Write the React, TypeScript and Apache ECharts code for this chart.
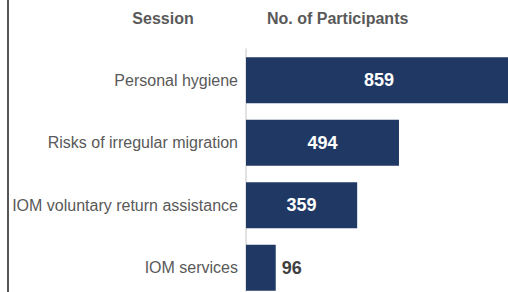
import React, { useEffect, useRef } from "react";
import * as echarts from "echarts";

const categories = [
  "Personal hygiene",
  "Risks of irregular migration",
  "IOM voluntary return assistance",
  "IOM services",
];
const participants = [859, 494, 359, 96];
const headers = ["Session", "No. of Participants"];

const FONT = "'Liberation Sans', Arial, sans-serif";

export default function App() {
  const ref = useRef<HTMLDivElement>(null);
  useEffect(() => {
    if (!ref.current) return;
    const chart = echarts.init(ref.current, undefined, { renderer: "svg" });
    const data = participants.map((v, i) => ({
      value: v,
      label:
        i === participants.length - 1
          ? { position: "right", distance: 6, color: "#404040" }
          : { position: "inside", color: "#ffffff" },
    }));
    chart.setOption({
      animation: false,
      grid: {
        left: 246,
        top: 49,
        width: 266,
        height: 250,
        containLabel: false,
        outerBoundsMode: "none",
      },
      xAxis: { type: "value", min: 0, max: 859, show: false },
      yAxis: {
        type: "category",
        data: categories,
        inverse: true,
        axisLine: { show: true, lineStyle: { color: "#d9d9d9", width: 1.5 } },
        axisTick: { show: false },
        axisLabel: { margin: 8, fontSize: 16, color: "#595959", fontFamily: FONT },
      },
      graphic: [
        { type: "rect", shape: { x: 7, y: 0, width: 2, height: 292 }, style: { fill: "#555555" } },
        {
          type: "text",
          x: 163,
          y: 18,
          style: {
            text: headers[0],
            fontSize: 16,
            fontWeight: "bold",
            fill: "#595959",
            fontFamily: FONT,
            textAlign: "center",
            textVerticalAlign: "middle",
          },
        },
        {
          type: "text",
          x: 267,
          y: 18,
          style: {
            text: headers[1],
            fontSize: 16,
            fontWeight: "bold",
            fill: "#595959",
            fontFamily: FONT,
            textAlign: "left",
            textVerticalAlign: "middle",
          },
        },
      ],
      series: [
        {
          type: "bar",
          data,
          barWidth: 46,
          itemStyle: { color: "#1F3864" },
          label: { show: true, fontSize: 18, fontWeight: "bold", fontFamily: FONT },
        },
      ],
    });
    return () => chart.dispose();
  }, []);
  return (
    <div
      ref={ref}
      style={{ position: "fixed", left: 0, top: 0, width: 508, height: 292, background: "#fff" }}
    />
  );
}
